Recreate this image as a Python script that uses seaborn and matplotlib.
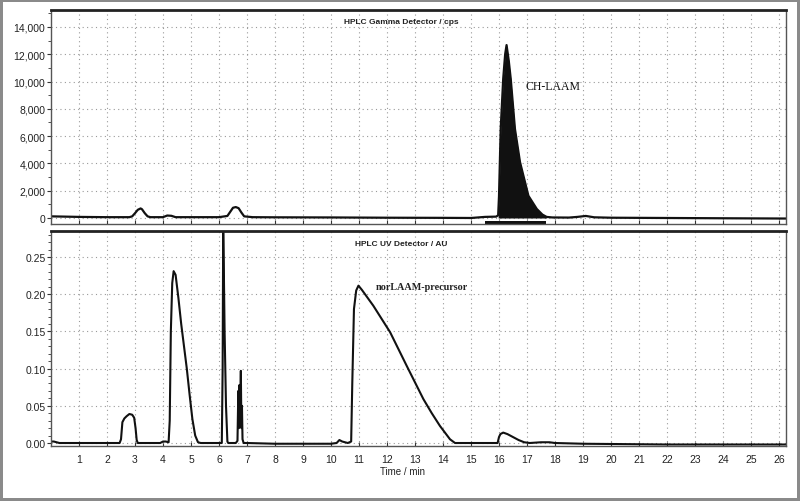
import matplotlib
matplotlib.use("Agg")
import matplotlib.pyplot as plt
import matplotlib.ticker as mticker
import seaborn as sns
import pandas as pd

# ---------------- data ----------------
gamma_time = [0.0, 0.5, 1.0, 2.0, 2.8, 2.9, 3.0, 3.1, 3.2, 3.25, 3.35, 3.45, 3.55,
              4.0, 4.15, 4.3, 4.45, 5.0, 6.0, 6.3, 6.4, 6.5, 6.6, 6.7, 6.8, 6.9,
              7.2, 8.0, 10.0, 12.0, 14.0, 15.0, 15.5, 15.9, 15.97, 16.0, 16.06,
              16.15, 16.22, 16.27, 16.35, 16.42, 16.57, 16.75, 17.05, 17.35,
              17.55, 17.7, 17.9, 18.5, 18.8, 19.1, 19.4, 20.0, 22.0, 24.0, 26.25]
gamma_cps = [120, 100, 80, 60, 60, 120, 350, 600, 700, 640, 350, 120, 60,
             60, 180, 160, 60, 60, 60, 150, 450, 750, 800, 720, 400, 120,
             60, 50, 40, 20, 10, 0, 80, 100, 200, 1600, 6500,
             10200, 12000, 12670, 11500, 10180, 6520, 4100, 1630, 660,
             250, 80, 40, 30, 80, 150, 50, 20, 0, -20, -40]
gamma_peak_start = 15.95
gamma_peak_end = 17.7
integration_start = 15.5
integration_end = 17.68

uv_time = [0.0, 0.1, 0.3, 1.0, 2.0, 2.45, 2.5, 2.55, 2.62, 2.7, 2.8, 2.9, 2.97,
           3.02, 3.06, 3.1, 3.5, 3.9, 4.0, 4.1, 4.2, 4.24, 4.28, 4.33, 4.38,
           4.45, 4.55, 4.65, 4.75, 4.85, 4.95, 5.05, 5.15, 5.25, 5.35, 6.1,
           6.13, 6.15, 6.17, 6.2, 6.25, 6.3, 6.33, 6.6, 6.66, 6.69, 6.71, 6.73,
           6.75, 6.78, 6.8, 6.82, 6.84, 6.88, 7.0, 8.0, 9.0, 10.0, 10.2, 10.3,
           10.4, 10.6, 10.72, 10.76, 10.82, 10.9, 10.98, 11.1, 11.51, 12.11,
           12.7, 13.3, 13.6, 13.89, 14.25, 14.43, 15.0, 15.95, 16.0, 16.05,
           16.15, 16.3, 16.5, 16.7, 16.9, 17.1, 17.5, 17.8, 18.0, 19.0, 22.0,
           26.25]
uv_au = [0.002, 0.002, 0.0, 0.0, 0.0, 0.0, 0.005, 0.028, 0.033, 0.036, 0.039,
         0.038, 0.034, 0.02, 0.004, 0.0, 0.0, 0.0, 0.002, 0.002, 0.001, 0.03,
         0.15, 0.215, 0.231, 0.226, 0.195, 0.16, 0.13, 0.1, 0.065, 0.032,
         0.01, 0.001, 0.0, 0.0, 0.1, 0.29, 0.24, 0.15, 0.05, 0.002, 0.0, 0.0,
         0.003, 0.07, 0.02, 0.078, 0.03, 0.097, 0.02, 0.05, 0.005, 0.0, 0.0,
         -0.001, -0.001, -0.001, 0.0, 0.004, 0.002, 0.0, 0.002, 0.08, 0.18,
         0.205, 0.2115, 0.206, 0.1846, 0.149, 0.104, 0.059, 0.04, 0.023,
         0.005, 0.0, 0.0, 0.0, 0.008, 0.012, 0.014, 0.012, 0.008, 0.004,
         0.001, 0.0, 0.001, 0.001, 0.0, -0.001, -0.002, -0.002]

gamma_label = "CH-LAAM"
uv_label = "norLAAM-precursor"
gamma_title = "HPLC Gamma Detector / cps"
uv_title = "HPLC UV Detector / AU"
x_label = "Time / min"
x_ticks = list(range(1, 27))
gamma_yticks = [0, 2000, 4000, 6000, 8000, 10000, 12000, 14000]
uv_yticks = [0.00, 0.05, 0.10, 0.15, 0.20, 0.25]

# ---------------- figure ----------------
sns.set_theme(style="white")
plt.rcParams['font.family'] = ['Liberation Sans', 'DejaVu Sans']

fig = plt.figure(figsize=(8.0, 5.02), dpi=100, facecolor="white",
                 edgecolor="#8a8a8a", linewidth=3)
ax1 = fig.add_axes([0.06375, 0.5518, 0.91875, 0.4263])
ax2 = fig.add_axes([0.06375, 0.1096, 0.91875, 0.4283])

gdf = pd.DataFrame({"t": gamma_time, "v": gamma_cps})
udf = pd.DataFrame({"t": uv_time, "v": uv_au})

sns.lineplot(data=gdf, x="t", y="v", ax=ax1, color="#111111", lw=1.6,
             estimator=None, sort=False)
pk = gdf[(gdf.t >= gamma_peak_start) & (gdf.t <= gamma_peak_end)]
ax1.fill_between(pk.t, 0, pk.v, color="#111111", lw=0)
ax1.fill_between([integration_start, integration_end], -440, -230,
                 color="#111111", lw=0)

sns.lineplot(data=udf, x="t", y="v", ax=ax2, color="#111111", lw=1.5,
             estimator=None, sort=False)

for ax in (ax1, ax2):
    ax.set_xlim(0, 26.25)
    ax.set_xticks(x_ticks)
    ax.grid(True, which="major", color="#9a9a9a", linestyle=(0, (1, 3)), lw=0.8)
    ax.set_xlabel("")
    ax.set_ylabel("")
    for s in ax.spines.values():
        s.set_color("#555555")
        s.set_linewidth(1.0)
    ax.spines["top"].set_linewidth(2.0)
    ax.spines["top"].set_color("#222222")
    ax.tick_params(axis="y", which="major", direction="out", length=3,
                   width=0.8, color="#333333", labelsize=7.5, pad=1,
                   labelcolor="#222222", left=True)
    ax.tick_params(axis="y", which="minor", direction="out", length=2,
                   width=0.6, color="#333333", left=True)
    ax.tick_params(axis="x", which="major", direction="in", length=3,
                   width=0.8, color="#333333", labelsize=7.5,
                   labelcolor="#222222", bottom=True, pad=6)

ax1.set_ylim(-440, 15240)
ax1.set_yticks(gamma_yticks)
ax1.yaxis.set_major_formatter(mticker.FuncFormatter(lambda v, p: f"{int(v):,}"))
ax1.yaxis.set_minor_locator(mticker.MultipleLocator(1000))
ax1.tick_params(axis="x", labelbottom=False)

ax2.set_ylim(-0.004, 0.285)
ax2.set_yticks(uv_yticks)
ax2.yaxis.set_major_formatter(mticker.FormatStrFormatter("%.2f"))
ax2.yaxis.set_minor_locator(mticker.MultipleLocator(0.01))

ax1.text(0.476, 0.944, gamma_title, transform=ax1.transAxes, fontsize=6,
         fontweight="bold", ha="center", va="center", color="#222222")
ax2.text(0.476, 0.944, uv_title, transform=ax2.transAxes, fontsize=6,
         fontweight="bold", ha="center", va="center", color="#222222")
ax1.text(16.93, 9670, gamma_label, fontsize=8.5, family=["Liberation Serif"],
         ha="left", va="center", color="#111111")
ax2.text(11.6, 0.2097, uv_label, fontsize=7.3, family=["Liberation Serif"],
         fontweight="bold", ha="left", va="center", color="#222222")

fig.text(0.503, 0.06, x_label, fontsize=7, ha="center", va="center",
         color="#222222")

fig.savefig("out.png", dpi=100, facecolor="white", edgecolor="#8a8a8a")
